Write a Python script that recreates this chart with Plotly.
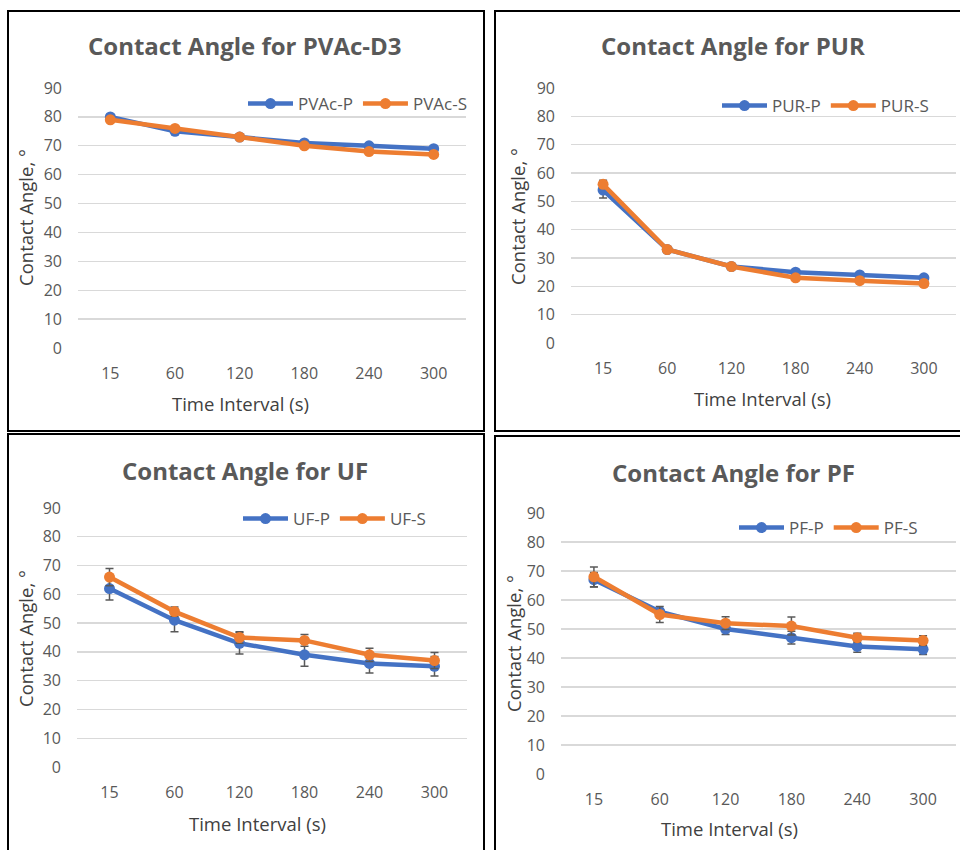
import plotly.graph_objects as go

# ---------------- data ----------------
time_labels = ["15", "60", "120", "180", "240", "300"]

pvac_p = [80, 75, 73, 71, 70, 69]
pvac_p_err = [0.8, 0.6, 0.5, 0.6, 0.6, 0.5]
pvac_s = [79, 76, 73, 70, 68, 67]
pvac_s_err = [0.8, 0.6, 0.5, 0.6, 0.6, 0.5]

pur_p = [54, 33, 27, 25, 24, 23]
pur_p_err = [2.8, 0.7, 0.6, 0.6, 0.6, 0.5]
pur_s = [56, 33, 27, 23, 22, 21]
pur_s_err = [1.4, 0.6, 0.5, 0.6, 0.6, 0.5]

uf_p = [62, 51, 43, 39, 36, 35]
uf_p_err = [4.0, 4.0, 3.7, 4.0, 3.3, 3.4]
uf_s = [66, 54, 45, 44, 39, 37]
uf_s_err = [3.0, 1.6, 2.0, 2.0, 2.3, 2.8]

pf_p = [67, 56, 50, 47, 44, 43]
pf_p_err = [2.5, 1.0, 1.9, 2.2, 2.0, 1.8]
pf_s = [68, 55, 52, 51, 47, 46]
pf_s_err = [3.4, 2.8, 2.2, 3.1, 1.5, 1.7]

panels = [
    dict(title="Contact Angle for PVAc-D3", names=["PVAc-P", "PVAc-S"],
         p=pvac_p, pe=pvac_p_err, s=pvac_s, se=pvac_s_err),
    dict(title="Contact Angle for PUR", names=["PUR-P", "PUR-S"],
         p=pur_p, pe=pur_p_err, s=pur_s, se=pur_s_err),
    dict(title="Contact Angle for UF", names=["UF-P", "UF-S"],
         p=uf_p, pe=uf_p_err, s=uf_s, se=uf_s_err),
    dict(title="Contact Angle for PF", names=["PF-P", "PF-S"],
         p=pf_p, pe=pf_p_err, s=pf_s, se=pf_s_err),
]

# ---------------- layout geometry (pixels) ----------------
W, H = 960, 850
plot_boxes = [  # x0, x1, ytop, ybottom
    (78, 466, 88, 348),
    (571, 956, 88, 343),
    (77, 467, 508, 767),
    (561, 956, 513, 774),
]
title_pos = [(245, 45), (733, 45), (245, 470), (733, 472)]
xtitle_pos = [(240, 403), (762, 398), (257, 823), (729, 828)]
ytitle_pos = [(25, 218), (517, 217), (25, 639), (513, 644)]
legend_pos = [(243, 104), (717, 106), (238, 519), (734, 528)]
frames = [(8, 11, 484, 431), (495, 11, 965, 431), (8, 434, 484, 855), (495, 436, 965, 855)]

BLUE = "#4472C4"
ORANGE = "#ED7D31"
FONT = "Open Sans"


def px(x):
    return x / W


def py(y):
    return 1 - y / H


fig = go.Figure()
layout = dict(
    width=W, height=H, autosize=False,
    margin=dict(l=0, r=0, t=0, b=0, pad=0, autoexpand=False),
    paper_bgcolor="white", plot_bgcolor="white",
    font=dict(family=FONT, color="#595959"),
    showlegend=True,
)
annotations = []
shapes = []

for i, pnl in enumerate(panels):
    k = "" if i == 0 else str(i + 1)
    xa, ya = "x" + k, "y" + k
    lg = "legend" + k
    for vals, errs, name, col in [(pnl["p"], pnl["pe"], pnl["names"][0], BLUE),
                                  (pnl["s"], pnl["se"], pnl["names"][1], ORANGE)]:
        fig.add_trace(go.Scatter(
            x=time_labels, y=vals, name=name, mode="lines+markers",
            line=dict(color=col, width=4.5),
            marker=dict(color=col, size=11),
            error_y=dict(type="data", array=errs, visible=True,
                         color="#595959", thickness=1.5, width=4),
            xaxis=xa, yaxis=ya, legend=lg,
        ))
    x0, x1, yt, yb = plot_boxes[i]
    layout["xaxis" + k] = dict(
        domain=[px(x0), px(x1)], anchor=ya, type="category",
        range=[-0.5, 5.5], showgrid=False, zeroline=False, showline=False,
        ticks="", tickfont=dict(size=16, color="#595959"),
        ticklabelstandoff=14, fixedrange=True, automargin=False,
    )
    layout["yaxis" + k] = dict(
        domain=[py(yb), py(yt)], anchor=xa, range=[0, 90], dtick=10,
        tick0=0, showgrid=True, gridcolor="#D9D9D9", gridwidth=1.3,
        zeroline=False, showline=False, ticks="",
        tickfont=dict(size=16, color="#595959"), ticklabelstandoff=15,
        fixedrange=True, automargin=False,
    )
    lx, lyy = legend_pos[i]
    layout[lg] = dict(
        x=px(lx), y=py(lyy), xanchor="left", yanchor="middle",
        orientation="h", bgcolor="rgba(0,0,0,0)",
        font=dict(size=17, color="#595959", family=FONT),
        itemwidth=45, tracegroupgap=0,
    )
    tx, ty = title_pos[i]
    annotations.append(dict(
        text="<b>" + pnl["title"] + "</b>", x=px(tx), y=py(ty),
        xref="paper", yref="paper", showarrow=False,
        xanchor="center", yanchor="middle",
        font=dict(size=24, color="#595959", family=FONT),
    ))
    ax_, ay_ = xtitle_pos[i]
    annotations.append(dict(
        text="Time Interval (s)", x=px(ax_), y=py(ay_),
        xref="paper", yref="paper", showarrow=False,
        xanchor="center", yanchor="middle",
        font=dict(size=18.5, color="#404040", family=FONT),
    ))
    yx, yy = ytitle_pos[i]
    annotations.append(dict(
        text="Contact Angle, °", x=px(yx), y=py(yy), textangle=-90,
        xref="paper", yref="paper", showarrow=False,
        xanchor="center", yanchor="middle",
        font=dict(size=18.5, color="#404040", family=FONT),
    ))
    fx0, fy0, fx1, fy1 = frames[i]
    shapes.append(dict(
        type="rect", xref="paper", yref="paper",
        x0=px(fx0), x1=px(fx1), y0=py(fy1), y1=py(fy0),
        line=dict(color="black", width=2), fillcolor="rgba(0,0,0,0)",
        layer="above",
    ))

layout["annotations"] = annotations
layout["shapes"] = shapes
fig.update_layout(**layout)
fig.write_html(
    "out.html",
    config={"displayModeBar": False, "staticPlot": True},
    post_script="document.body.style.margin='0';document.body.style.overflow='hidden';",
)
